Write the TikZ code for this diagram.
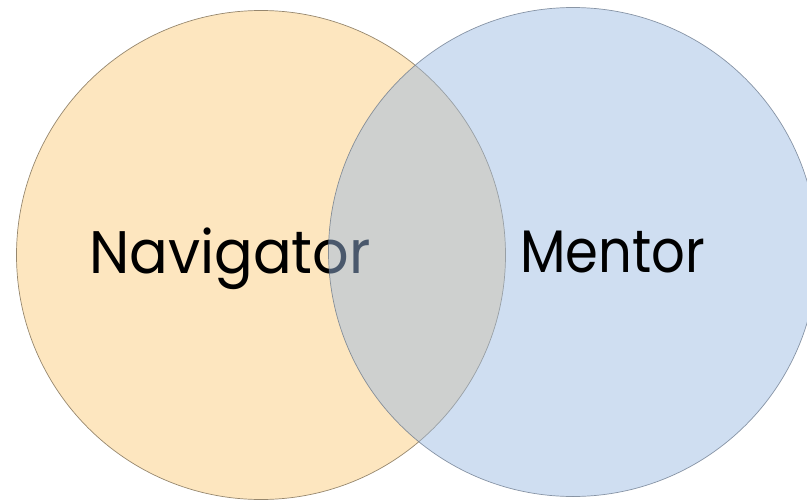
\documentclass[tikz,border=0pt]{standalone}
\usepackage{fontspec}
\setmainfont{Poppins}
\usepackage{tikz}
\usetikzlibrary{positioning}
\definecolor{navfill}{RGB}{253,230,191}
\definecolor{navline}{RGB}{150,135,110}
\definecolor{mentfill}{RGB}{155,186,226}
\definecolor{mentline}{RGB}{95,110,130}

\begin{document}
\begin{tikzpicture}[x=1pt,y=-1pt,
  ring/.style={circle,minimum size=489pt,inner sep=0pt,line width=0.7pt},
  word/.style={anchor=base west,inner sep=0pt,font=\fontsize{60}{60}\selectfont}]
\useasboundingbox (0,0) rectangle (807,501);
\clip (0,0) rectangle (807,501);
\node[ring,fill=navfill,draw=navline] (nav) at (261,255) {};
\node[word] (navtxt) at (89,273) {\scalebox{0.955}[1]{Navigator}};
\node[ring,fill=mentfill,fill opacity=0.48,draw=mentline,draw opacity=0.7] (ment) at (573,252) {};
\node[word] (menttxt) at (520,272) {\scalebox{0.88}[1]{Mentor}};
\end{tikzpicture}
\end{document}
